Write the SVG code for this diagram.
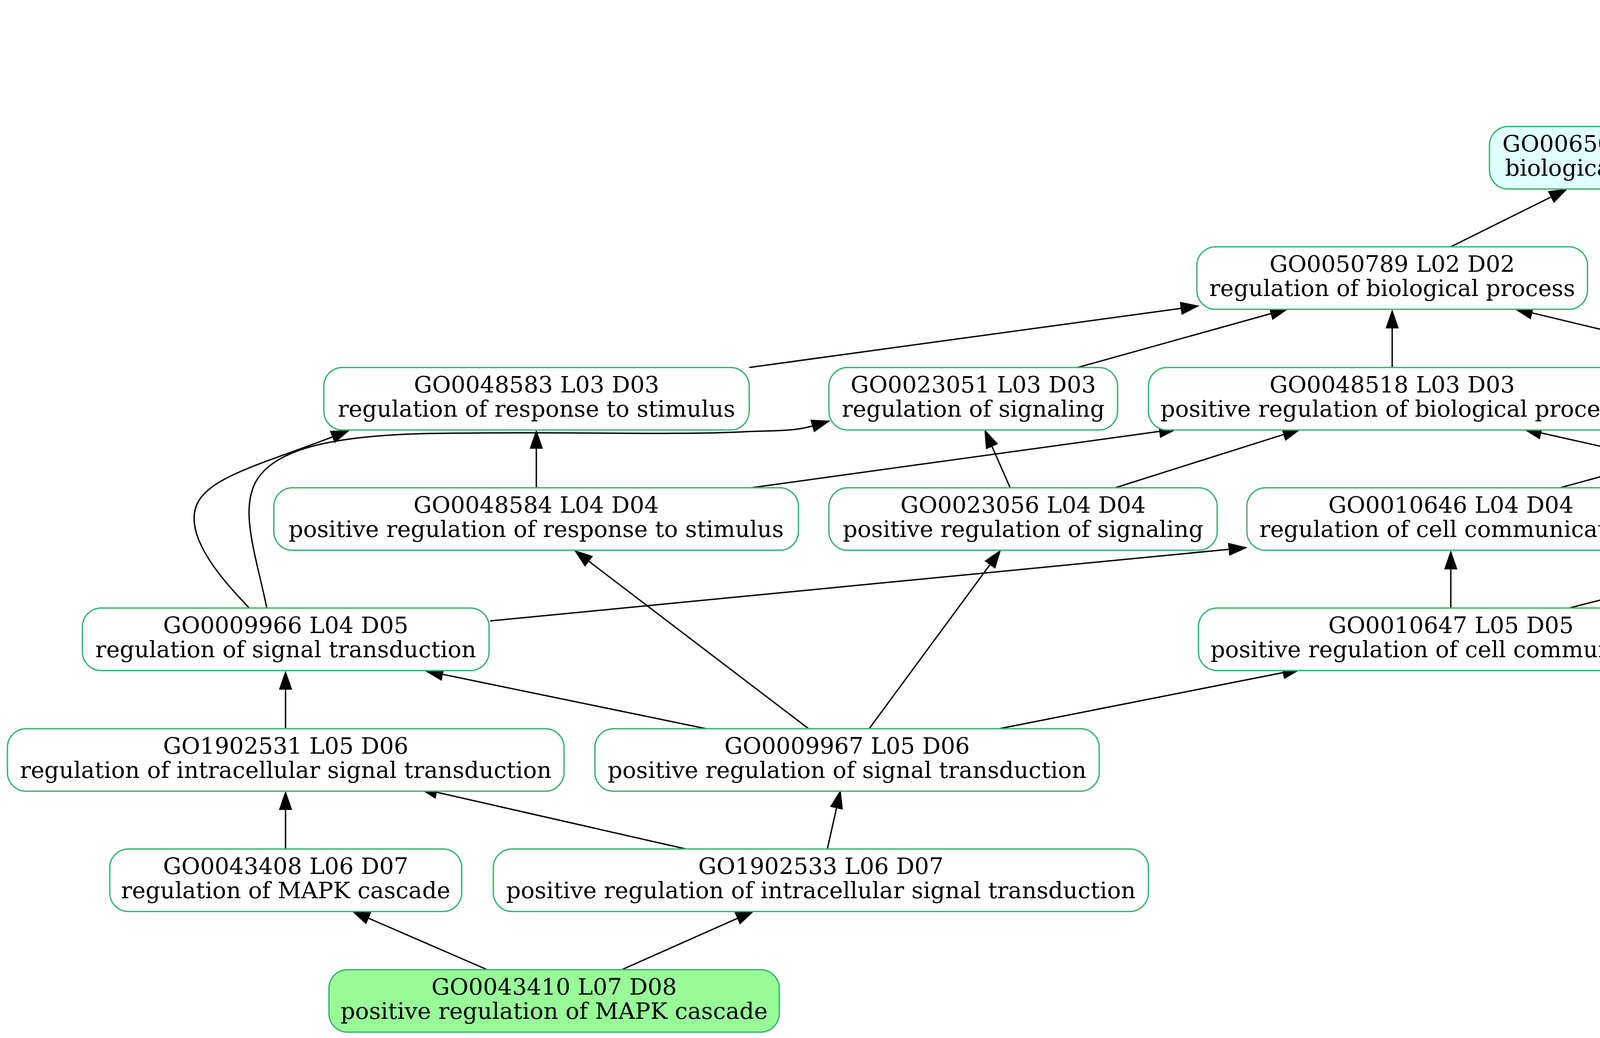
<svg xmlns="http://www.w3.org/2000/svg" width="7569" height="2658" viewBox="0 0 7569 2658">
<style>
.node rect{stroke:#3CB371;stroke-width:3.5}
.w{fill:#FFFFFF}
.c{fill:#E0FFFF}
.g{fill:#98FB98}
.node text{font-family:"DejaVu Serif","Liberation Serif",serif;font-size:58.6px;text-anchor:middle;fill:#000}
.edges path{fill:none;stroke:#000;stroke-width:3.5;marker-end:url(#arr)}
</style>
<defs>
<marker id="arr" markerUnits="userSpaceOnUse" viewBox="0 -18 50 36" refX="0" refY="0" markerWidth="50" markerHeight="36" orient="auto">
<path d="M0,-17 L49,0 L0,17 Z" fill="#000"/>
</marker>
</defs>
<rect x="0" y="0" width="7569" height="2658" fill="#FFFFFF"/>
<g class="edges" id="edges">
<path d="M4504,324 L5140.2,180.8"/>
<path d="M5527,324 L5527,225"/>
<path d="M6103,324 L5764.6,191.8"/>
<path d="M3714,632 L3970.1,504.8"/>
<path d="M5963,632 L5715.6,505.3"/>
<path d="M6158,632 L6226.7,524.3"/>
<path d="M6824,632 L6520.1,502.2"/>
<path d="M1918,941 L3022.5,789.7"/>
<path d="M2759,941 L3252.8,803.2"/>
<path d="M3564,941 L3564,841"/>
<path d="M4506,941 L3922.7,801.4"/>
<path d="M6615,941 L6322.8,810.9"/>
<path d="M6840,941 L6921,830.5"/>
<path d="M1373,1249 L1373,1149"/>
<path d="M1923,1249 L2967.5,1104.7"/>
<path d="M2586,1249 L2539.7,1143.8"/>
<path d="M2855,1249 L3285.3,1112.8"/>
<path d="M3994,1249 L4498.7,1110.9"/>
<path d="M4571,1249 L3945.8,1108.7"/>
<path d="M4887,1249 L4858.1,1145.2"/>
<path d="M5652,1250 L5146.3,1112.8"/>
<path d="M5873,1249 C5693,1001 5592,683 5543.1,530.6"/>
<path d="M638,1557 C593,1509 497,1410 497,1328 C495,1230 640,1200 850.3,1119.1"/>
<path d="M683,1557 C655,1420 610,1300 660,1225 C710,1150 850,1115 1100,1110 C1450,1104 1700,1115 1900,1106 C1980,1102 2031,1105 2079,1091"/>
<path d="M1255,1590 L3145.2,1406.7"/>
<path d="M3714,1557 L3714,1458"/>
<path d="M4017,1557 L4565.5,1417.1"/>
<path d="M5930,1558 L5930,1458"/>
<path d="M731,1866 L731,1766"/>
<path d="M1808,1866 L1134,1726.9"/>
<path d="M2070,1866 L1508,1437.7"/>
<path d="M2225,1866 L2533.9,1446.5"/>
<path d="M2558,1866 L3283.9,1722.5"/>
<path d="M5680,1866 L5811.4,1748.6"/>
<path d="M6569,1866 L6188.2,1732.2"/>
<path d="M6785,1866 L6785,1149"/>
<path d="M731,2174 L731,2074"/>
<path d="M1756,2174 L1118.8,2028.9"/>
<path d="M2118,2174 L2141.3,2069.8"/>
<path d="M5593,2173 L5593,2074"/>
<path d="M6404,2173 L5910.2,2034.3"/>
<path d="M6703,2173 L6741.3,2067.1"/>
<path d="M1247,2483 L944,2351.5"/>
<path d="M1592,2483 L1887.2,2351.9"/>
<path d="M6676,2483 L6676,2384"/>
</g>
<g class="node" id="GO0008150"><rect class="w" x="5179" y="16" width="694" height="160" rx="48"/><text x="5526" y="80">GO0008150 L00 D00</text><text x="5526" y="142">biological_process</text></g>
<g class="node" id="GO0065007"><rect class="c" x="3813" y="324" width="694" height="160" rx="48"/><text x="4160" y="388">GO0065007 L01 D01</text><text x="4160" y="450">biological regulation</text></g>
<g class="node" id="GO0009987"><rect class="c" x="5179" y="324" width="694" height="160" rx="48"/><text x="5526" y="388">GO0009987 L01 D01</text><text x="5526" y="450">cellular process</text></g>
<g class="node" id="GO0050896"><rect class="c" x="5950" y="324" width="695" height="160" rx="48"/><text x="6297.5" y="388">GO0050896 L01 D01</text><text x="6297.5" y="450">response to stimulus</text></g>
<g class="node" id="GO0050789"><rect class="w" x="3064" y="632" width="1000" height="160" rx="48"/><text x="3564" y="696">GO0050789 L02 D02</text><text x="3564" y="758">regulation of biological process</text></g>
<g class="node" id="GO0051716"><rect class="w" x="5643" y="632" width="932" height="160" rx="48"/><text x="6109" y="696">GO0051716 L02 D02</text><text x="6109" y="758">cellular response to stimulus</text></g>
<g class="node" id="GO0006950"><rect class="w" x="6654" y="632" width="695" height="160" rx="48"/><text x="7001.5" y="696">GO0006950 L02 D02</text><text x="7001.5" y="758">response to stress</text></g>
<g class="node" id="GO0048583"><rect class="w" x="829" y="941" width="1089" height="160" rx="48"/><text x="1373.5" y="1005">GO0048583 L03 D03</text><text x="1373.5" y="1067">regulation of response to stimulus</text></g>
<g class="node" id="GO0023051"><rect class="w" x="2122" y="941" width="739" height="160" rx="48"/><text x="2491.5" y="1005">GO0023051 L03 D03</text><text x="2491.5" y="1067">regulation of signaling</text></g>
<g class="node" id="GO0048518"><rect class="w" x="2940" y="941" width="1248" height="160" rx="48"/><text x="3564" y="1005">GO0048518 L03 D03</text><text x="3564" y="1067">positive regulation of biological process</text></g>
<g class="node" id="GO0050794"><rect class="w" x="4360" y="941" width="925" height="160" rx="48"/><text x="4822.5" y="1005">GO0050794 L03 D03</text><text x="4822.5" y="1067">regulation of cellular process</text></g>
<g class="node" id="GO0033554"><rect class="w" x="6357" y="941" width="856" height="160" rx="48"/><text x="6785" y="1005">GO0033554 L03 D03</text><text x="6785" y="1067">cellular response to stress</text></g>
<g class="node" id="GO0048584"><rect class="w" x="701" y="1249" width="1343" height="160" rx="48"/><text x="1372.5" y="1313">GO0048584 L04 D04</text><text x="1372.5" y="1375">positive regulation of response to stimulus</text></g>
<g class="node" id="GO0023056"><rect class="w" x="2122" y="1249" width="994" height="160" rx="48"/><text x="2619" y="1313">GO0023056 L04 D04</text><text x="2619" y="1375">positive regulation of signaling</text></g>
<g class="node" id="GO0010646"><rect class="w" x="3192" y="1249" width="1045" height="160" rx="48"/><text x="3714.5" y="1313">GO0010646 L04 D04</text><text x="3714.5" y="1375">regulation of cell communication</text></g>
<g class="node" id="GO0048522"><rect class="w" x="4315" y="1249" width="1190" height="160" rx="48"/><text x="4910" y="1313">GO0048522 L04 D04</text><text x="4910" y="1375">positive regulation of cellular process</text></g>
<g class="node" id="GO0007165"><rect class="w" x="5585" y="1249" width="693" height="160" rx="48"/><text x="5931.5" y="1313">GO0007165 L02 D04</text><text x="5931.5" y="1375">signal transduction</text></g>
<g class="node" id="GO0009966"><rect class="w" x="211" y="1557" width="1041" height="160" rx="48"/><text x="731.5" y="1621">GO0009966 L04 D05</text><text x="731.5" y="1683">regulation of signal transduction</text></g>
<g class="node" id="GO0010647"><rect class="w" x="3068" y="1557" width="1293" height="160" rx="48"/><text x="3714.5" y="1621">GO0010647 L05 D05</text><text x="3714.5" y="1683">positive regulation of cell communication</text></g>
<g class="node" id="GO0035556"><rect class="w" x="5418" y="1557" width="1027" height="160" rx="48"/><text x="5931.5" y="1621">GO0035556 L03 D05</text><text x="5931.5" y="1683">intracellular signal transduction</text></g>
<g class="node" id="GO1902531"><rect class="w" x="19" y="1866" width="1425" height="160" rx="48"/><text x="731.5" y="1930">GO1902531 L05 D06</text><text x="731.5" y="1992">regulation of intracellular signal transduction</text></g>
<g class="node" id="GO0009967"><rect class="w" x="1523" y="1866" width="1291" height="160" rx="48"/><text x="2168.5" y="1930">GO0009967 L05 D06</text><text x="2168.5" y="1992">positive regulation of signal transduction</text></g>
<g class="node" id="GO0000165"><rect class="w" x="5246" y="1866" width="696" height="160" rx="48"/><text x="5594" y="1930">GO0000165 L04 D06</text><text x="5594" y="1992">MAPK cascade</text></g>
<g class="node" id="GO0031098"><rect class="w" x="6019" y="1866" width="1531" height="160" rx="48"/><text x="6784.5" y="1930">GO0031098 L04 D06</text><text x="6784.5" y="1992">stress-activated protein kinase signaling cascade</text></g>
<g class="node" id="GO0043408"><rect class="w" x="281" y="2174" width="901" height="160" rx="48"/><text x="731.5" y="2238">GO0043408 L06 D07</text><text x="731.5" y="2300">regulation of MAPK cascade</text></g>
<g class="node" id="GO1902533"><rect class="w" x="1263" y="2174" width="1677" height="160" rx="48"/><text x="2101.5" y="2238">GO1902533 L06 D07</text><text x="2101.5" y="2300">positive regulation of intracellular signal transduction</text></g>
<g class="node" id="GO0070371"><rect class="g" x="5192" y="2174" width="804" height="160" rx="48"/><text x="5594" y="2238">GO0070371 L05 D07</text><text x="5594" y="2300">ERK1 and ERK2 cascade</text></g>
<g class="node" id="GO0051403"><rect class="g" x="6180" y="2174" width="995" height="160" rx="48"/><text x="6677.5" y="2238">GO0051403 L05 D07</text><text x="6677.5" y="2300">stress-activated MAPK cascade</text></g>
<g class="node" id="GO0043410"><rect class="g" x="842" y="2483" width="1153" height="160" rx="48"/><text x="1418.5" y="2547">GO0043410 L07 D08</text><text x="1418.5" y="2609">positive regulation of MAPK cascade</text></g>
<g class="node" id="GO0007254"><rect class="g" x="6330" y="2483" width="693" height="160" rx="48"/><text x="6676.5" y="2547">GO0007254 L06 D08</text><text x="6676.5" y="2609">JNK cascade</text></g>
</svg>
